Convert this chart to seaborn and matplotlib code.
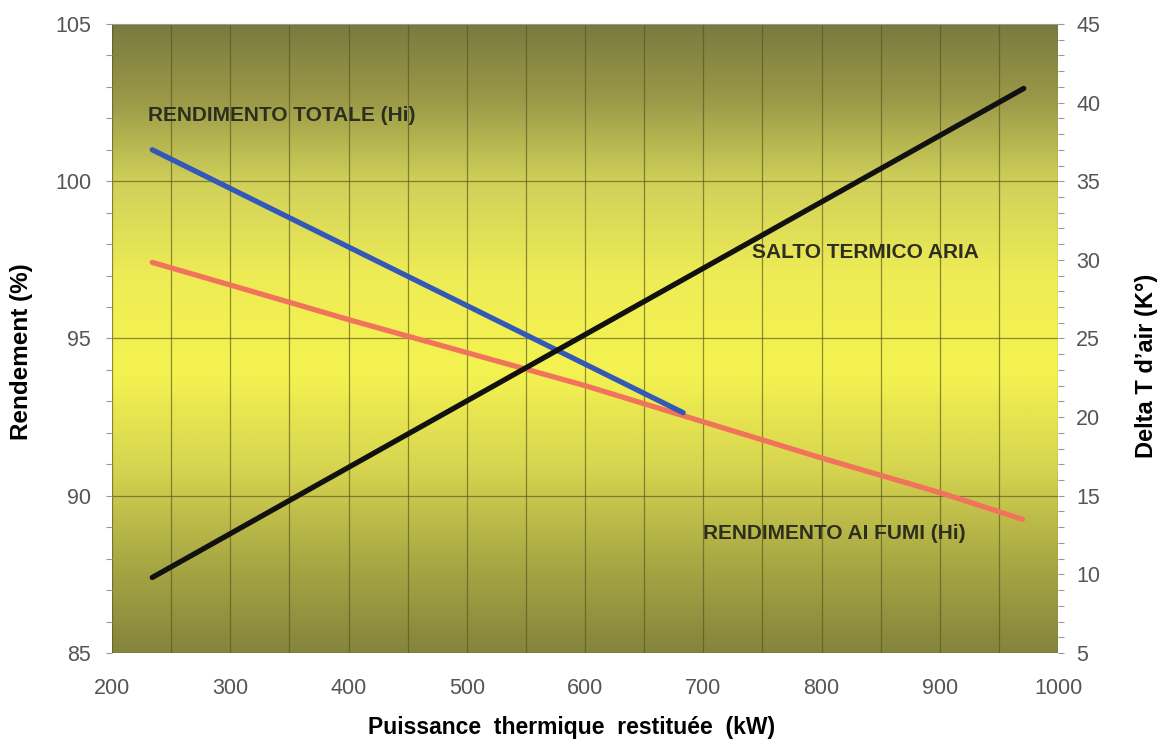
import numpy as np
import matplotlib.pyplot as plt
import seaborn as sns
from matplotlib.colors import LinearSegmentedColormap
from matplotlib.ticker import MultipleLocator

sns.set_style("white")
plt.rcParams['font.family'] = ['Liberation Sans', 'DejaVu Sans']

# rendimento totale (Hi) - blue, left axis
kw_totale = [234, 683]
rend_totale = [101.0, 92.64]

# rendimento ai fumi (Hi) - red, left axis
kw_fumi = [234, 300, 400, 500, 600, 700, 800, 900, 970]
rend_fumi = [97.42, 96.7, 95.6, 94.55, 93.5, 92.35, 91.2, 90.1, 89.25]

# salto termico aria - black, right axis
kw_salto = [234, 971]
delta_t = [9.8, 40.9]

x_ticks = [200, 300, 400, 500, 600, 700, 800, 900, 1000]
y_ticks = [85, 90, 95, 100, 105]
y2_ticks = [5, 10, 15, 20, 25, 30, 35, 40, 45]

fig = plt.figure(figsize=(11.67, 7.4), dpi=100)
ax = fig.add_axes([0.096, 0.1176, 0.8106, 0.85])
ax2 = ax.twinx()

# olive -> yellow -> olive background
bg = LinearSegmentedColormap.from_list("bg", [
    (0.0, "#7a7a40"),
    (0.12, "#9a9a48"),
    (0.25, "#d0d05a"),
    (0.40, "#eeec55"),
    (0.55, "#f5f350"),
    (0.70, "#d8d650"),
    (0.85, "#aaaa45"),
    (1.0, "#84843d"),
])
ax.imshow(np.linspace(0, 1, 256).reshape(-1, 1), cmap=bg, aspect="auto",
          extent=[200, 1000, 85, 105], origin="upper", zorder=0)

sns.lineplot(x=kw_fumi, y=rend_fumi, ax=ax, color="#f2735c", linewidth=3.8,
             solid_capstyle="round", zorder=3)
sns.lineplot(x=kw_totale, y=rend_totale, ax=ax, color="#3358b8", linewidth=3.8,
             solid_capstyle="round", zorder=4)
sns.lineplot(x=kw_salto, y=delta_t, ax=ax2, color="#111111", linewidth=3.8,
             solid_capstyle="round")

ax.set_xlim(200, 1000)
ax.set_ylim(85, 105)
ax2.set_ylim(5, 45)
ax.set_xticks(x_ticks)
ax.set_yticks(y_ticks)
ax2.set_yticks(y2_ticks)
ax.xaxis.set_minor_locator(MultipleLocator(50))
ax.yaxis.set_minor_locator(MultipleLocator(1))
ax2.yaxis.set_minor_locator(MultipleLocator(1))

ax.grid(axis="x", which="both", color="#55551f", linewidth=0.9, alpha=0.65)
ax.grid(axis="y", which="major", color="#55551f", linewidth=0.9, alpha=0.65)
ax2.grid(False)

for a in (ax, ax2):
    for s in a.spines.values():
        s.set_visible(False)
ax.spines["top"].set_visible(True)
ax.spines["top"].set_color("#9a9a9a")
ax.spines["top"].set_linewidth(0.8)

ax.tick_params(axis="x", which="both", direction="out", color="#999999",
               length=5, width=0.8, labelcolor="#555555", labelsize=15.5, pad=13)
ax.tick_params(axis="y", which="both", direction="out", color="#999999",
               length=4, width=0.8, labelcolor="#555555", labelsize=15.5, pad=11)
ax2.tick_params(axis="y", which="both", direction="out", color="#999999",
                length=4, width=0.8, labelcolor="#555555", labelsize=15.5, pad=9)

txt = dict(fontsize=15, fontweight="bold", color="#2e2e20", va="center", ha="left")
ax.text(230, 102.1, "RENDIMENTO TOTALE (Hi)", zorder=5, **txt)
ax.text(741, 97.74, "SALTO TERMICO ARIA", zorder=5, **txt)
ax.text(700, 88.79, "RENDIMENTO AI FUMI (Hi)", zorder=5, **txt)

ax.set_xlabel("Puissance  thermique  restituée  (kW)", fontsize=16.5,
              fontweight="bold", color="black")
ax.set_ylabel("Rendement (%)", fontsize=17.5, fontweight="bold", color="black")
ax2.set_ylabel("Delta T d\u2019air (K°)", fontsize=17, fontweight="bold", color="black")
ax.xaxis.set_label_coords(0.486, -0.100)
ax.yaxis.set_label_coords(-0.0835, 0.4785)
ax2.yaxis.set_label_coords(1.0814, 0.456)

fig.savefig("out.png", dpi=100)
